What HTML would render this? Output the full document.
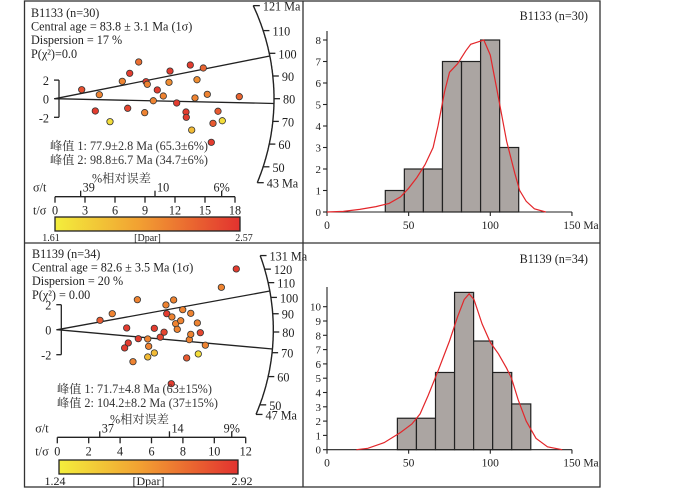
<!DOCTYPE html>
<html><head><meta charset="utf-8">
<style>
html,body{margin:0;padding:0;background:#fff;}
svg{display:block;font-family:"Liberation Serif","Noto Serif CJK SC",serif;}
</style></head>
<body>
<svg id="fig" width="700" height="488" viewBox="0 0 700 488" xmlns="http://www.w3.org/2000/svg">
<defs>
<linearGradient id="dpar" x1="0" x2="1" y1="0" y2="0">
<stop offset="0" stop-color="#f3ee3c"/><stop offset="0.45" stop-color="#f2a132"/><stop offset="1" stop-color="#e2322f"/>
</linearGradient>
</defs>
<g id="frames" fill="none" stroke="#333" stroke-width="1.3">
<rect x="24.5" y="1" width="575.5" height="486"/>
<line x1="303" y1="1" x2="303" y2="487"/>
<line x1="24.5" y1="243" x2="600" y2="243"/>
</g>
</svg>
<script>
// ---------- data ----------
// Histogram B1133
const h1Counts = [1, 2, 2, 7, 7, 8, 3];
const h1Start = 35.7, h1Width = 11.67;
const h1Ticks = [0, 1, 2, 3, 4, 5, 6, 7, 8];
const h1KdeAge = [0,10,20,30,38,45,50,55,60,65,68,72,75,80,85,88,92,96,100,105,110,115,118,122,127,134];
const h1KdeVal = [0,0.03,0.12,0.25,0.4,0.7,1.1,1.6,2.2,3.0,4.0,5.6,6.5,6.9,7.5,7.8,7.9,8.0,7.3,5.3,3.3,1.8,1.0,0.5,0.15,0];
// Histogram B1139
const h2Counts = [2.2, 2.2, 5.4, 11, 7.6, 5.4, 3.2];
const h2Start = 43.1, h2Width = 11.67;
const h2Ticks = [0,1,2,3,4,5,6,7,8,9,10];
const h2KdeAge = [18,25,35,45,52,57,62,68,75,80,84,87,90,95,100,105,110,113,117,122,128,135,144];
const h2KdeVal = [0,0.1,0.5,1.2,1.8,2.5,3.8,5.5,7.6,9.3,10.5,10.9,10.5,8.8,7.5,6.7,5.7,5.0,3.5,2.0,0.8,0.2,0];
const xAgeTicks = [0, 50, 100, 150];
// Radial B1133
const r1X = [2.67,4.43,4.03,5.5,6.73,7.47,8.37,7.27,8.97,9.1,9.23,9.83,10.23,10.83,11.4,11.5,12.17,13.1,13.13,13.53,13.67,14.0,14.2,14.83,15.23,15.63,15.8,16.3,16.73,18.43];
const r1Y = [0.97,0.43,-1.32,-2.47,1.87,2.73,3.95,-1.03,-1.5,1.83,1.55,-0.22,0.94,0.29,1.76,2.97,-0.46,-1.43,-2.0,3.62,-3.37,0.08,2.04,3.3,0.47,-4.69,-2.65,-1.35,-2.37,0.22];
const r1C = [0.85,0.6,0.95,0.1,0.6,0.95,0.7,0.9,0.6,0.95,0.6,0.6,0.95,0.6,0.55,0.95,0.95,0.95,0.95,0.95,0.3,0.6,0.55,0.75,0.6,0.95,0.8,0.8,0.1,0.75];
const r1AgeTicks = [43,50,60,70,80,90,100,110,121];
const r1Peaks = [77.9, 98.8];
const r1TTicks = [0,3,6,9,12,15,18];
const r1STicks = [39,10,6];
// Radial B1139
const r2X = [2.72,3.5,4.42,5.1,4.52,4.29,4.82,5.16,5.76,5.82,5.76,6.18,6.18,6.56,6.8,6.92,6.97,7.3,7.41,7.54,7.64,7.86,7.26,7.99,8.24,8.41,8.5,8.5,8.92,8.98,9.11,9.43,10.45,11.4];
const r2Y = [0.75,1.28,0.14,2.4,-1.06,-1.46,-2.56,-0.72,-0.74,-1.33,-2.18,0.11,-1.86,-0.6,-0.2,1.98,1.28,1.02,2.38,0.48,0.03,0.72,-4.32,1.6,-2.26,-0.8,-0.37,1.31,0.54,-1.94,-0.24,-1.24,3.39,4.86];
const r2C = [0.8,0.6,0.95,0.6,0.95,0.95,0.6,0.95,0.6,0.6,0.3,0.95,0.3,0.9,0.9,0.6,0.95,0.6,0.6,0.6,0.6,0.6,0.95,0.6,0.8,0.6,0.6,0.6,0.6,0.1,0.9,0.6,0.6,0.95];
const r2AgeTicks = [47,50,60,70,80,90,100,110,120,131];
const r2Peaks = [71.7, 104.2];
const r2TTicks = [0,2,4,6,8,10,12];
const r2STicks = [37,14,9];

// ---------- helpers ----------
const NS = "http://www.w3.org/2000/svg";
const svg = document.getElementById('fig');
const FS = 12.2;
function mk(tag, attrs, parent, text){
  const e = document.createElementNS(NS, tag);
  for (const k in attrs) e.setAttribute(k, attrs[k]);
  if (text !== undefined) e.textContent = text;
  (parent || svg).appendChild(e);
  return e;
}
function colorFor(c){
  const a=[243,238,60], b=[242,161,50], d=[226,50,47];
  let p,q,t;
  if (c<0.45){p=a;q=b;t=c/0.45;} else {p=b;q=d;t=(c-0.45)/0.55;}
  return 'rgb('+p.map((v,i)=>Math.round(v+(q[i]-v)*t)).join(',')+')';
}

// ---------- histogram ----------
function histogram(name, x0, y0, pxPerMa, pxPerUnit, yTop, counts, start, width, ticks, kAge, kVal, label, labelY){
  const g = mk('g', {});
  
  
  const X = a => x0 + a*pxPerMa;
  const Y = v => y0 - v*pxPerUnit;
  counts.forEach((c,i)=>{
    const r = mk('rect', {x:X(start+i*width), y:Y(c), width:width*pxPerMa, height:c*pxPerUnit, fill:'#aba5a2', stroke:'#222', 'stroke-width':1.2}, g);
    
    
  });
  const ax = mk('g', {stroke:'#222','stroke-width':1.1, fill:'none'}, g);
  
  
  mk('line', {x1:x0, y1:y0, x2:X(150), y2:y0}, ax);
  mk('line', {x1:x0, y1:y0, x2:x0, y2:yTop}, ax);
  xAgeTicks.forEach(a=>{
    mk('line', {x1:X(a), y1:y0, x2:X(a), y2:y0+4}, ax);
    const t = mk('text', {x:X(a) + (a===150?9:0), y:y0+17, 'font-size':11.5, 'text-anchor':'middle', fill:'#222'}, g, a===150?'150 Ma':String(a));
    
    
  });
  ticks.forEach(v=>{
    mk('line', {x1:x0-4, y1:Y(v), x2:x0, y2:Y(v)}, ax);
    const t = mk('text', {x:x0-6, y:Y(v)+4, 'font-size':11, 'text-anchor':'end', fill:'#222'}, g, String(v));
    
    
  });
  const d = kAge.map((a,i)=>(i?'L':'M')+X(a).toFixed(1)+','+Y(kVal[i]).toFixed(1)).join(' ');
  const p = mk('path', {d:d, fill:'none', stroke:'#e3262a', 'stroke-width':1.2}, g);
  
  
  const tt = mk('text', {x:588, y:labelY, 'font-size':FS, 'text-anchor':'end', fill:'#222'}, g, label);
  
  
}
histogram('histogram-b1133', 327, 212, 1.633, 21.5, 31, h1Counts, h1Start, h1Width, h1Ticks, h1KdeAge, h1KdeVal, 'B1133 (n=30)', 20);
histogram('histogram-b1139', 327, 449.7, 1.633, 14.3, 287, h2Counts, h2Start, h2Width, h2Ticks, h2KdeAge, h2KdeVal, 'B1139 (n=34)', 263);

// ---------- radial plot ----------
function radial(o){
  const g = mk('g', {});
  
  
  const X = v => o.ox + v*o.sx;
  const Y = v => o.oy - v*o.sy;
  const arcPt = (age, r) => { const dy = o.ageDy(age); return [o.ox + Math.sqrt(r*r-dy*dy), o.oy + dy]; };
  o.header.forEach((s,i)=>{
    const t = mk('text', {x:o.tx, y:o.ty+i*13.6, 'font-size':FS, fill:'#222'}, g, s);
    
    
  });
  const ages = [o.ageTicks[0], o.ageTicks[o.ageTicks.length-1]];
  let d=''; for (let a=ages[0]; a<=ages[1]+0.01; a+=0.5){ const p=arcPt(Math.min(a,ages[1]),o.R); d+=(d?'L':'M')+p[0].toFixed(1)+','+p[1].toFixed(1); }
  const arc = mk('path', {d:d, fill:'none', stroke:'#222', 'stroke-width':1.4}, g);
  
  
  o.ageTicks.forEach((a,i)=>{
    const p1=arcPt(a,o.R), p2=arcPt(a,o.R+6);
    mk('line', {x1:p1[0], y1:p1[1], x2:p2[0], y2:p2[1], stroke:'#222','stroke-width':1.3}, g);
    const last = i===0 || i===o.ageTicks.length-1;
    const t = mk('text', {x:p2[0]+3, y:p2[1]+5, 'font-size':FS, fill:'#222'}, g, last? a+' Ma' : String(a));
    
    
  });
  o.peaks.forEach(a=>{
    const p=arcPt(a,o.R);
    const l = mk('line', {x1:o.ox, y1:o.oy, x2:p[0], y2:p[1], stroke:'#222','stroke-width':1.3}, g);
    
    
  });
  const ya = mk('g', {stroke:'#222','stroke-width':1.3}, g);
  
  
  mk('line', {x1:o.ox+4, y1:Y(2), x2:o.ox+4, y2:Y(-2)}, ya);
  [2,0,-2].forEach(v=>{
    mk('line', {x1:o.ox-1, y1:Y(v), x2:o.ox+4, y2:Y(v)}, ya);
    const t = mk('text', {x:o.ox-6, y:Y(v)+5, 'font-size':FS, 'text-anchor':'end', fill:'#222', stroke:'none'}, g, String(v));
    
    
  });
  o.xs.forEach((xv,i)=>{
    const c = mk('circle', {cx:X(xv), cy:Y(o.ys[i]), r:3.2, fill:colorFor(o.cs[i]), stroke:'#333','stroke-width':0.8}, g);
    
    
  });
  o.peakText.forEach((s,i)=>{
    const t = mk('text', {x:o.ptx, y:o.pty+i*14, 'font-size':FS, fill:'#333'}, g, s);
    
    
  });
  const rel = mk('text', {x:o.relX, y:o.axY-14, 'font-size':FS, fill:'#333'}, g, '%相对误差');
  
  
  const xa = mk('g', {stroke:'#222','stroke-width':1.3}, g);
  
  
  const AX = v => o.ox + v*o.axS;
  mk('line', {x1:AX(0), y1:o.axY, x2:AX(o.tTicks[o.tTicks.length-1]), y2:o.axY}, xa);
  o.tTicks.forEach(v=>{
    mk('line', {x1:AX(v), y1:o.axY, x2:AX(v), y2:o.axY+6}, xa);
    const t = mk('text', {x:AX(v), y:o.axY+18, 'font-size':FS, 'text-anchor':'middle', fill:'#222', stroke:'none'}, g, String(v));
    
    
  });
  o.sTicks.forEach((s,i)=>{
    const x = AX(100/s);
    mk('line', {x1:x, y1:o.axY-6, x2:x, y2:o.axY}, xa);
    const t = mk('text', {x:x + (i===o.sTicks.length-1?0:2), y:o.axY-5, 'font-size':FS, 'text-anchor':i===o.sTicks.length-1?'middle':'start', fill:'#222', stroke:'none'}, g, i===o.sTicks.length-1? s+'%' : String(s));
    
    
  });
  const l1 = mk('text', {x:o.ox-22, y:o.axY-5, 'font-size':FS, fill:'#222'}, g, 'σ/t');
   
  const l2 = mk('text', {x:o.ox-22, y:o.axY+18, 'font-size':FS, fill:'#222'}, g, 't/σ');
   
  const cb = mk('rect', {x:o.cbX, y:o.cbY, width:o.cbW, height:14, fill:'url(#dpar)', stroke:'#222','stroke-width':1.3}, g);
  
  
  const fs = o.cbFont;
  const a1 = mk('text', {x:o.cbX-4, y:o.cbY+o.cbLab, 'font-size':fs, 'text-anchor':'middle', fill:'#222'}, g, o.cbMin);
   
  const a2 = mk('text', {x:o.cbX+o.cbW/2, y:o.cbY+o.cbLab, 'font-size':fs, 'text-anchor':'middle', fill:'#222'}, g, '[Dpar]');
   
  const a3 = mk('text', {x:o.cbX+o.cbW+4, y:o.cbY+o.cbLab, 'font-size':fs, 'text-anchor':'middle', fill:'#222'}, g, o.cbMax);
   
}

radial({name:'radial-plot-b1133', ox:55, oy:98.7, sx:10, sy:9.3, R:219,
  ageDy: a => -(a-80)*2.27, ageTicks:r1AgeTicks, peaks:r1Peaks,
  xs:r1X, ys:r1Y, cs:r1C,
  header:['B1133 (n=30)','Central age = 83.8 ± 3.1 Ma (1σ)','Dispersion = 17 %','P(χ²)=0.0'], tx:31, ty:17,
  peakText:['峰值 1: 77.9±2.8 Ma (65.3±6%)','峰值 2: 98.8±6.7 Ma (34.7±6%)'], ptx:50, pty:150,
  relX:92, axY:196.7, axS:10, tTicks:r1TTicks, sTicks:r1STicks,
  cbX:55, cbY:217, cbW:185, cbMin:'1.61', cbMax:'2.57', cbFont:10, cbLab:24});

radial({name:'radial-plot-b1139', ox:57.3, oy:329.7, sx:15.7, sy:12.5, R:216,
  ageDy: a => 2.3 - 155*Math.log(a/80), ageTicks:r2AgeTicks, peaks:r2Peaks,
  xs:r2X, ys:r2Y, cs:r2C,
  header:['B1139 (n=34)','Central age = 82.6 ± 3.5 Ma (1σ)','Dispersion = 20 %','P(χ²) = 0.00'], tx:32, ty:258,
  peakText:['峰值 1: 71.7±4.8 Ma (63±15%)','峰值 2: 104.2±8.2 Ma (37±15%)'], ptx:57, pty:393,
  relX:110, axY:437.3, axS:15.7, tTicks:r2TTicks, sTicks:r2STicks,
  cbX:59, cbY:460, cbW:179, cbMin:'1.24', cbMax:'2.92', cbFont:12, cbLab:25});
</script>
</body></html>
